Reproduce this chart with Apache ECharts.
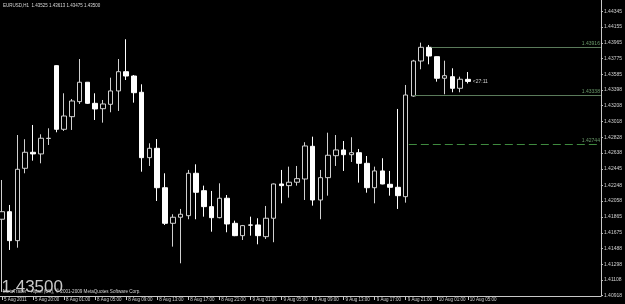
<!DOCTYPE html>
<html><head><meta charset="utf-8">
<script src="https://cdn.jsdelivr.net/npm/echarts@6/dist/echarts.min.js"></script>
<style>html,body{margin:0;padding:0;background:#000;}#c{width:625px;height:304px;}</style>
</head><body><div id="c"></div>
<script>
// EURUSD H1 bars (index 0 = 5 Aug 2011 16:00)
const opens = [1.41839,1.41930,1.41581,1.42453,1.42646,1.42626,1.42812,1.43690,1.42923,1.43075,
  1.43256,1.43490,1.43236,1.43171,1.43224,1.43385,1.43617,1.43565,1.43369,1.42581,
  1.42694,1.42219,1.41790,1.41863,1.41882,1.42393,1.42183,1.41991,1.41858,1.42092,
  1.41790,1.41641,1.41770,1.41770,1.41629,1.41851,1.42264,1.42244,1.42285,1.42324,
  1.42718,1.42071,1.42340,1.42605,1.42674,1.42617,1.42641,1.42513,1.42219,1.42421,
  1.42260,1.42224,1.42111,1.43324,1.43746,1.43911,1.43798,1.43538,1.43557,1.43417,1.43525];
const highs = [1.42312,1.42011,1.42854,1.42803,1.42975,1.42863,1.42935,1.43695,1.43357,1.43288,
  1.43770,1.43493,1.43357,1.43276,1.43545,1.43770,1.44008,1.43577,1.43465,1.42754,
  1.42806,1.42393,1.41899,1.41963,1.42433,1.42501,1.42244,1.42180,1.42272,1.42131,
  1.41822,1.41770,1.41870,1.41851,1.41999,1.42270,1.42433,1.42473,1.42481,1.42767,
  1.42834,1.42433,1.42882,1.42854,1.42782,1.42827,1.42686,1.42601,1.42473,1.42574,
  1.42421,1.43168,1.43457,1.43760,1.43967,1.43939,1.43800,1.43750,1.43658,1.43557,1.43613];
const lows = [1.40963,1.41469,1.41496,1.42393,1.42545,1.42513,1.42734,1.42887,1.42903,1.42915,
  1.43228,1.43228,1.43035,1.43003,1.43128,1.43144,1.43517,1.43244,1.42412,1.42481,
  1.42059,1.41770,1.41509,1.41308,1.41839,1.41839,1.41870,1.41689,1.41850,1.41682,
  1.41635,1.41589,1.41641,1.41537,1.41601,1.41562,1.42031,1.42099,1.42244,1.42071,
  1.42003,1.41839,1.42123,1.42481,1.42421,1.42529,1.42280,1.42159,1.42031,1.42260,
  1.42123,1.41963,1.42039,1.43316,1.43646,1.43706,1.43497,1.43345,1.43369,1.43369,1.43475];
const closes = [1.41930,1.41581,1.42441,1.42646,1.42626,1.42815,1.42815,1.42923,1.43083,1.43264,
  1.43490,1.43236,1.43168,1.43228,1.43385,1.43617,1.43565,1.43364,1.42581,1.42694,
  1.42219,1.41790,1.41863,1.41899,1.42393,1.42164,1.41991,1.41858,1.42092,1.41782,
  1.41641,1.41762,1.41768,1.41641,1.41851,1.42264,1.42244,1.42285,1.42328,1.42722,
  1.42071,1.42340,1.42610,1.42674,1.42617,1.42641,1.42513,1.42219,1.42421,1.42264,
  1.42224,1.42123,1.43336,1.43746,1.43911,1.43806,1.43538,1.43569,1.43417,1.43526,1.43500];

const xTickBars = [0,4,8,12,16,20,24,28,32,36,40,44,48,52,56,60];
const xTickLabels = ["5 Aug 2011","5 Aug 20:00","8 Aug 01:00","8 Aug 05:00","8 Aug 09:00","8 Aug 13:00",
  "8 Aug 17:00","8 Aug 21:00","9 Aug 01:00","9 Aug 05:00","9 Aug 09:00","9 Aug 13:00",
  "9 Aug 17:00","9 Aug 21:00","10 Aug 01:00","10 Aug 05:00"];
const yTickValues = [1.44345,1.44155,1.43965,1.43775,1.43585,1.43398,1.43208,1.43018,1.42828,1.42638,
  1.42445,1.42248,1.42058,1.41865,1.41675,1.41488,1.41298,1.41108,1.40918];

const levelPrices = [1.43916, 1.43338, 1.42744];
const levelStartBars = [55.3, 53.0, 52.4];
const levelDashed = [false, false, true];
const bid = 1.43500;
const timerText = "<27:11";
const headerText = "EURUSD,H1  1.43525 1.43613 1.43475 1.43500";
const copyrightText = "MetaTrader - Alpari (UK), © 2001-2009 MetaQuotes Software Corp.";

const X_MIN = -0.25, X_MAX = 77.14;
const FONT = "Liberation Sans";
const data = opens.map((o, i) => [i, o, closes[i], lows[i], highs[i]]);

const levelLines = levelPrices.map((p, i) => [
  { coord: [levelStartBars[i], p],
    lineStyle: { color: levelDashed[i] ? '#3f8a3f' : '#5a7a5a', width: 1, type: levelDashed[i] ? [8, 4] : 'solid' },
    label: { show: true, position: 'insideEndTop', formatter: p.toFixed(5), color: '#6a9a6a',
             fontSize: 5, fontFamily: FONT, distance: [1, 1] } },
  { coord: [X_MAX, p] }
]);
const bidLine = [{ yAxis: bid, lineStyle: { opacity: 0 },
  label: { show: true, position: 'end', formatter: bid.toFixed(5), color: '#000', backgroundColor: '#fff',
           fontSize: 5, fontFamily: FONT, padding: [1, 1, 1, 1], distance: 1 } }];

const chart = echarts.init(document.getElementById('c'), null, { renderer: 'canvas' });
chart.setOption({
  animation: false,
  backgroundColor: '#000',
  grid: { left: 0, right: 19, top: 0, bottom: 8 },
  xAxis: {
    type: 'value', min: X_MIN, max: X_MAX,
    axisLine: { show: true, onZero: false, lineStyle: { color: '#c8c8c8', width: 1 } },
    axisTick: { show: true, customValues: xTickBars, length: 4, lineStyle: { color: '#c8c8c8' } },
    axisLabel: { show: true, customValues: xTickBars, formatter: v => xTickLabels[xTickBars.indexOf(Math.round(v))] || '',
      color: '#d0d0d0', fontSize: 4.5, fontFamily: FONT, align: 'left', margin: 1, padding: [0, 0, 0, 2] },
    splitLine: { show: false }
  },
  yAxis: {
    type: 'value', position: 'right', min: 1.40914, max: 1.44481, scale: true,
    axisLine: { show: true, onZero: false, lineStyle: { color: '#c8c8c8', width: 1 } },
    axisTick: { show: true, customValues: yTickValues, length: 2, lineStyle: { color: '#c8c8c8' } },
    axisLabel: { show: true, customValues: yTickValues, formatter: v => v.toFixed(5),
      color: '#d0d0d0', fontSize: 5, fontFamily: FONT, margin: 3 },
    splitLine: { show: false }
  },
  series: [{
    type: 'candlestick',
    data: data,
    encode: { x: 0, y: [1, 2, 3, 4] },
    barWidth: 5,
    itemStyle: { color: '#000', color0: '#fff', borderColor: '#d0d0d0', borderColor0: '#fff', borderWidth: 1 },
    markLine: { symbol: ['none', 'none'], silent: true, animation: false, data: levelLines.concat(bidLine) },
    markPoint: { silent: true, animation: false, data: [{ coord: [opens.length - 1, bid], symbol: 'circle', symbolSize: 0,
      label: { show: true, position: 'right', distance: 5, formatter: timerText, color: '#d0d0d0', fontSize: 5, fontFamily: FONT } }] }
  }],
  graphic: [
    { type: 'text', x: 3, y: 5.5, silent: true,
      style: { text: headerText, fill: '#d8d8d8', font: '4.5px "' + FONT + '"', verticalAlign: 'middle' } },
    { type: 'text', x: 1.5, y: 287, silent: true,
      style: { text: bid.toFixed(5), fill: '#c8c8c8', font: '17px "' + FONT + '"', verticalAlign: 'middle' } },
    { type: 'text', x: 3, y: 291.5, silent: true,
      style: { text: copyrightText, fill: '#d8d8d8', font: '4.6px "' + FONT + '"', verticalAlign: 'middle' } }
  ]
});
</script>
</body></html>
